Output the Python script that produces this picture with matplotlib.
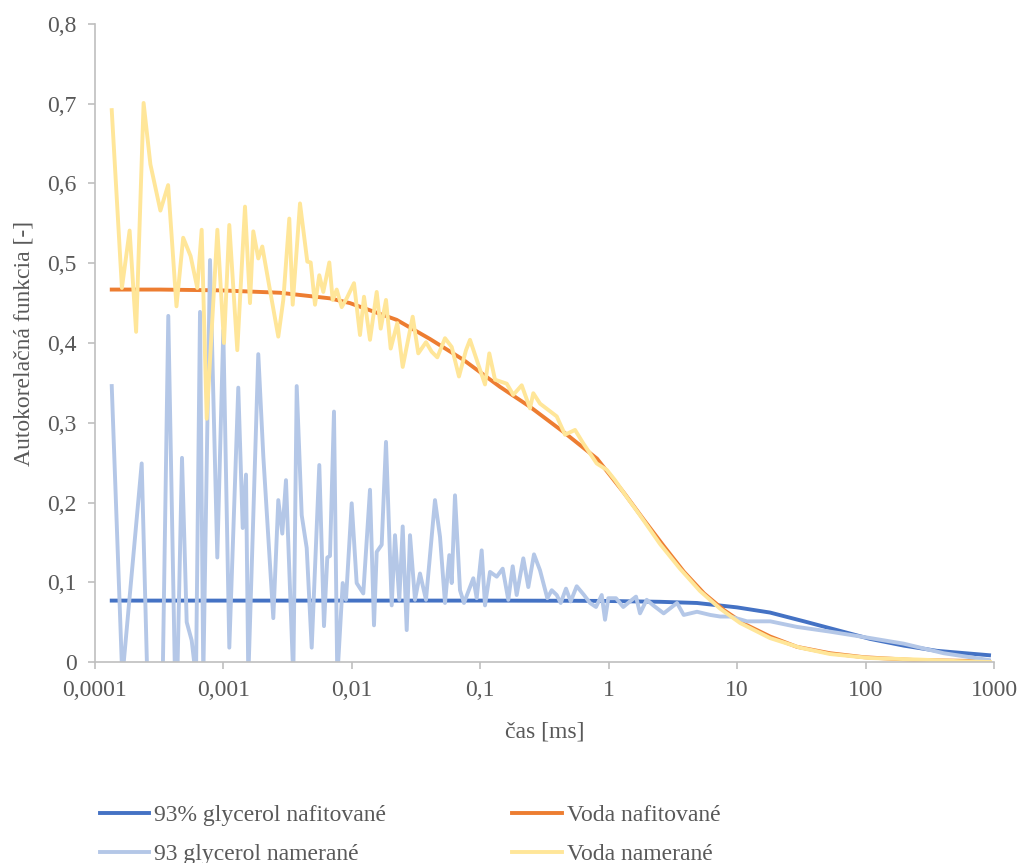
import matplotlib
matplotlib.use("Agg")
import matplotlib.pyplot as plt

# 93% glycerol - fit
glyc_fit_t = [1.35e-4, 1e-3, 1e-2, 0.1, 0.5, 1.0, 2.508, 4.867, 9.97, 18.03, 33.16, 59.93,
              108.2, 199.1, 359.7, 914.2]
glyc_fit_g = [0.077, 0.077, 0.077, 0.077, 0.0768, 0.0765, 0.0755, 0.074, 0.0685, 0.062, 0.051, 0.040,
              0.029, 0.0205, 0.014, 0.0085]

# voda - fit
voda_fit_t = [1.35e-4, 3.207e-4, 9.40e-4, 2.757e-3, 6.757e-3, 9.67e-3, 2.234e-2, 4.058e-2, 7.374e-2,
              0.1424, 0.2438, 0.4566, 0.8102, 1.315, 1.883, 2.694, 3.856, 5.520, 7.898, 11.30,
              18.03, 29.24, 52.84, 97.21, 238.2, 914.2]
voda_fit_g = [0.467, 0.467, 0.466, 0.463, 0.456, 0.450, 0.429, 0.405, 0.379,
              0.345, 0.320, 0.287, 0.255, 0.212, 0.178, 0.145, 0.113, 0.086, 0.065, 0.048,
              0.032, 0.019, 0.011, 0.006, 0.0025, 0.001]

# 93 glycerol - namerane
glyc_t = [1.35e-4, 1.632e-4, 2.310e-4, 2.554e-4, 3.366e-4, 3.721e-4, 4.197e-4, 4.373e-4, 4.758e-4,
          5.176e-4, 5.661e-4, 6.114e-4, 6.571e-4, 6.970e-4, 7.861e-4, 8.958e-4, 9.975e-4, 1.111e-3,
          1.305e-3, 1.413e-3, 1.499e-3, 1.562e-3, 1.868e-3, 2.044e-3, 2.445e-3, 2.674e-3, 2.873e-3,
          3.069e-3, 3.499e-3, 3.720e-3, 4.069e-3, 4.450e-3, 4.867e-3, 5.578e-3, 6.067e-3, 6.436e-3,
          6.757e-3, 7.258e-3, 7.702e-3, 8.485e-3, 9.000e-3, 9.97e-3, 1.090e-2, 1.227e-2, 1.384e-2,
          1.487e-2, 1.561e-2, 1.707e-2, 1.844e-2, 2.043e-2, 2.167e-2, 2.341e-2, 2.488e-2, 2.673e-2,
          2.836e-2, 3.101e-2, 3.392e-2, 3.777e-2, 4.438e-2, 4.856e-2, 5.311e-2, 5.737e-2, 5.989e-2,
          6.353e-2, 6.950e-2, 7.464e-2, 8.822e-2, 9.374e-2, 0.1025, 0.1088, 0.1190, 0.1342, 0.1494,
          0.1652, 0.1788, 0.1920, 0.2162, 0.2365, 0.2619, 0.2917, 0.3325, 0.3597, 0.3935, 0.4227,
          0.4648, 0.5057, 0.5632, 0.6420, 0.7150, 0.7958, 0.8816, 0.9355, 0.9922, 1.139, 1.298,
          1.464, 1.631, 1.752, 1.975, 2.223, 2.679, 3.400, 3.834, 4.867, 6.181, 7.394, 8.843,
          11.93, 18.12, 29.24, 53.12, 108.8, 198.0, 405.5, 909.4]
glyc_g = [0.346, -0.02, 0.249, -0.02, -0.02, 0.434, -0.02, -0.02, 0.256,
          0.050, 0.027, -0.02, 0.439, -0.02, 0.504, 0.131, 0.416, 0.018,
          0.344, 0.168, 0.235, -0.02, 0.386, 0.258, 0.055, 0.203, 0.161,
          0.228, -0.02, 0.346, 0.184, 0.143, 0.018, 0.247, 0.045, 0.131,
          0.133, 0.314, -0.02, 0.099, 0.078, 0.199, 0.099, 0.086, 0.216,
          0.046, 0.138, 0.147, 0.276, 0.071, 0.159, 0.078, 0.170, 0.040,
          0.159, 0.078, 0.111, 0.078, 0.203, 0.157, 0.074, 0.134, 0.099,
          0.209, 0.090, 0.074, 0.105, 0.080, 0.140, 0.071, 0.113, 0.107, 0.117,
          0.078, 0.120, 0.084, 0.130, 0.094, 0.135, 0.115, 0.080, 0.090, 0.084, 0.074,
          0.092, 0.076, 0.095, 0.084, 0.074, 0.069, 0.084, 0.053, 0.080, 0.080, 0.069,
          0.076, 0.082, 0.061, 0.078, 0.071, 0.061, 0.074, 0.059, 0.063, 0.059, 0.057, 0.057,
          0.051, 0.051, 0.044, 0.038, 0.030, 0.023, 0.011, 0.0025]

# voda - namerane
voda_t = [1.35e-4, 1.62e-4, 1.86e-4, 2.09e-4, 2.39e-4, 2.70e-4, 3.23e-4, 3.71e-4, 4.31e-4, 4.86e-4,
          5.55e-4, 6.26e-4, 6.77e-4, 7.41e-4, 8.97e-4, 1.01e-3, 1.111e-3, 1.282e-3, 1.472e-3,
          1.610e-3, 1.708e-3, 1.868e-3, 2.007e-3, 2.276e-3, 2.674e-3, 2.925e-3, 3.257e-3, 3.462e-3,
          3.946e-3, 4.498e-3, 4.780e-3, 5.164e-3, 5.578e-3, 5.993e-3, 6.674e-3, 7.089e-3, 7.620e-3,
          8.333e-3, 9.117e-3, 1.039e-2, 1.157e-2, 1.243e-2, 1.384e-2, 1.561e-2, 1.677e-2, 1.844e-2,
          2.006e-2, 2.258e-2, 2.488e-2, 2.976e-2, 3.290e-2, 3.777e-2, 4.183e-2, 4.626e-2, 5.311e-2,
          5.989e-2, 6.824e-2, 7.739e-2, 8.315e-2, 9.374e-2, 0.1088, 0.1175, 0.1302, 0.1606, 0.1807,
          0.2101, 0.2438, 0.2586, 0.2917, 0.3935, 0.4566, 0.5466, 0.6341, 0.8060, 0.9645, 1.119,
          1.380, 1.752, 2.508, 3.589, 5.139, 7.355, 10.52, 18.03, 30.86, 52.84, 108.2, 265.3,
          543.6, 930.4]
voda_g = [0.692, 0.469, 0.541, 0.414, 0.701, 0.624, 0.566, 0.598, 0.446, 0.532,
          0.509, 0.469, 0.542, 0.305, 0.542, 0.400, 0.548, 0.391, 0.571,
          0.450, 0.540, 0.506, 0.521, 0.471, 0.408, 0.454, 0.556, 0.448,
          0.575, 0.502, 0.501, 0.448, 0.485, 0.464, 0.501, 0.454, 0.467,
          0.445, 0.456, 0.475, 0.410, 0.458, 0.404, 0.464, 0.418, 0.454,
          0.393, 0.425, 0.370, 0.433, 0.387, 0.401, 0.389, 0.382, 0.406,
          0.395, 0.358, 0.391, 0.404, 0.379, 0.348, 0.387, 0.354, 0.349, 0.335,
          0.347, 0.318, 0.337, 0.324, 0.308, 0.285, 0.291, 0.274, 0.249, 0.241, 0.228,
          0.207, 0.184, 0.148, 0.117, 0.089, 0.067, 0.049, 0.030, 0.018, 0.010, 0.005, 0.003,
          0.001, 0.000]

x_ticks = [1e-4, 1e-3, 1e-2, 1e-1, 1, 10, 100, 1000]
x_labels = ["0,0001", "0,001", "0,01", "0,1", "1", "10", "100", "1000"]
y_ticks = [0, 0.1, 0.2, 0.3, 0.4, 0.5, 0.6, 0.7, 0.8]
y_labels = ["0", "0,1", "0,2", "0,3", "0,4", "0,5", "0,6", "0,7", "0,8"]

plt.rcParams['font.family'] = ['Liberation Serif', 'DejaVu Serif']
txt = '#595959'
grid = '#BFBFBF'
fs = 17

fig = plt.figure(figsize=(10.27, 8.63), dpi=100)
ax = fig.add_axes([0.0925, 0.2329, 0.8754, 0.7393])

l1, = ax.plot(glyc_fit_t, glyc_fit_g, color='#4472C4', lw=2.8, label='93% glycerol nafitované')
l2, = ax.plot(voda_fit_t, voda_fit_g, color='#ED7D31', lw=2.8, label='Voda nafitované')
l3, = ax.plot(glyc_t, glyc_g, color='#B4C7E7', lw=2.8, label='93 glycerol namerané')
l4, = ax.plot(voda_t, voda_g, color='#FFE699', lw=2.8, label='Voda namerané')

ax.set_xscale('log')
ax.set_xlim(1e-4, 1e3)
ax.set_ylim(0, 0.8)
ax.set_xticks(x_ticks)
ax.set_xticklabels(x_labels)
ax.minorticks_off()
ax.set_yticks(y_ticks)
ax.set_yticklabels(y_labels)

for s in ['top', 'right']:
    ax.spines[s].set_visible(False)
for s in ['left', 'bottom']:
    ax.spines[s].set_color(grid)
    ax.spines[s].set_linewidth(1.2)
ax.tick_params(colors=grid, labelcolor=txt, labelsize=fs, length=5, width=1.2, pad=8)

ax.set_xlabel('čas [ms]', fontsize=fs, color=txt, labelpad=15)
ax.set_ylabel('Autokorelačná funkcia [-]', fontsize=fs, color=txt, labelpad=9)

fig.legend([l1, l3, l2, l4],
           ['93% glycerol nafitované', '93 glycerol namerané', 'Voda nafitované', 'Voda namerané'],
           ncol=2, loc='upper left', bbox_to_anchor=(0.088, 0.0785), frameon=False,
           fontsize=fs, labelcolor=txt, handlelength=2.1, handletextpad=0.2,
           columnspacing=5.35, borderaxespad=0.0, labelspacing=0.75)

fig.savefig('out.png', dpi=100)
